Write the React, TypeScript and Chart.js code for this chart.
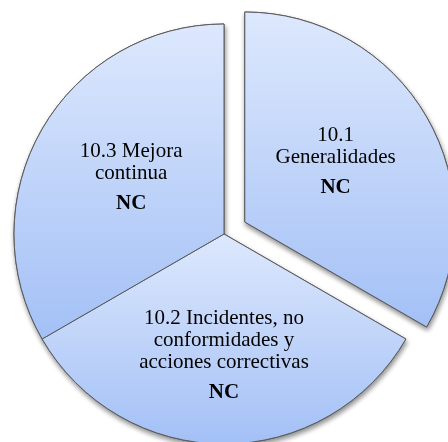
import React, { useEffect, useRef } from "react";
import { Chart, registerables } from "chart.js";

Chart.register(...registerables);

// ---- data ----
const categories = [
  "10.1 Generalidades",
  "10.2 Incidentes, no conformidades y acciones correctivas",
  "10.3 Mejora continua",
];
const values = [1, 1, 1];
const labelLines = [
  ["10.1", "Generalidades"],
  ["10.2 Incidentes, no", "conformidades y", "acciones correctivas"],
  ["10.3 Mejora", "continua"],
];
const statusLabels = ["NC", "NC", "NC"];

// ---- style ----
const explode = [24, 0, 0];
const labelRadius = [0.524, 0.571, 0.52];
const labelAngleShift = [-4.4, 0, 1.8]; // degrees
const gradTop = "#dde8fd";
const gradBottom = "#a3c0f6";
const FONT = "'Liberation Serif', 'Times New Roman', serif";

const explodePlugin = {
  id: "explodeAndGradient",
  afterDatasetsUpdate(chart: any) {
    const meta = chart.getDatasetMeta(0);
    const ctx = chart.ctx as CanvasRenderingContext2D;
    meta.data.forEach((arc: any, i: number) => {
      const mid = (arc.startAngle + arc.endAngle) / 2;
      const d = explode[i] || 0;
      if (d) {
        arc.x += Math.cos(mid) * d;
        arc.y += Math.sin(mid) * d;
      }
      const R = arc.outerRadius;
      const ys = [arc.y, arc.y + Math.sin(arc.startAngle) * R, arc.y + Math.sin(arc.endAngle) * R];
      for (let k = -2; k <= 2; k++) {
        const top = -Math.PI / 2 + 2 * Math.PI * k;
        const bot = Math.PI / 2 + 2 * Math.PI * k;
        if (top >= arc.startAngle && top <= arc.endAngle) ys.push(arc.y - R);
        if (bot >= arc.startAngle && bot <= arc.endAngle) ys.push(arc.y + R);
      }
      const y0 = Math.min(...ys);
      const y1 = Math.max(...ys);
      const g = ctx.createLinearGradient(0, y0, 0, y1);
      g.addColorStop(0, gradTop);
      g.addColorStop(1, gradBottom);
      const o = arc.options;
      if (o && !Object.isFrozen(o)) {
        o.backgroundColor = g;
      } else {
        arc.options = Object.assign({}, o, { backgroundColor: g });
      }
    });
  },
  beforeDatasetsDraw(chart: any) {
    // soft drop shadow pass, covered by the normal draw afterwards
    const ctx = chart.ctx as CanvasRenderingContext2D;
    const meta = chart.getDatasetMeta(0);
    ctx.save();
    ctx.shadowColor = "rgba(0,0,0,0.45)";
    ctx.shadowBlur = 5;
    ctx.shadowOffsetX = 1;
    ctx.shadowOffsetY = 3;
    meta.data.forEach((arc: any) => arc.draw(ctx));
    ctx.restore();
  },
  afterDatasetsDraw(chart: any) {
    const ctx = chart.ctx as CanvasRenderingContext2D;
    const meta = chart.getDatasetMeta(0);
    const lineH = 22;
    const gap = 30;
    const cap = 14;
    ctx.save();
    ctx.fillStyle = "#000";
    ctx.textAlign = "center";
    ctx.textBaseline = "alphabetic";
    meta.data.forEach((arc: any, i: number) => {
      const mid = (arc.startAngle + arc.endAngle) / 2 + (labelAngleShift[i] * Math.PI) / 180;
      const r = arc.outerRadius * labelRadius[i];
      const cx = arc.x + Math.cos(mid) * r;
      const cy = arc.y + Math.sin(mid) * r;
      const lines = labelLines[i];
      const span = (lines.length - 1) * lineH + gap;
      const fb = cy + cap / 2 - span / 2;
      ctx.font = `21px ${FONT}`;
      lines.forEach((t, j) => ctx.fillText(t, cx, fb + j * lineH));
      ctx.font = `bold 21px ${FONT}`;
      ctx.fillText(statusLabels[i], cx, fb + (lines.length - 1) * lineH + gap);
    });
    ctx.restore();
  },
};

export default function App() {
  const ref = useRef<HTMLCanvasElement | null>(null);
  useEffect(() => {
    if (!ref.current) return;
    const chart = new Chart(ref.current, {
      type: "pie",
      data: {
        labels: categories,
        datasets: [
          {
            data: values,
            backgroundColor: [gradTop, gradTop, gradTop],
            borderColor: "#5a5a5a",
            borderWidth: 1,
            radius: 210,
          } as any,
        ],
      },
      options: {
        responsive: false,
        animation: false,
        events: [],
        layout: { padding: { top: 26, bottom: 0, left: 0, right: 0 } },
        plugins: {
          legend: { display: false },
          tooltip: { enabled: false },
        },
      },
      plugins: [explodePlugin],
    });
    return () => chart.destroy();
  }, []);
  return (
    <div style={{ position: "fixed", left: 0, top: 0, width: 448, height: 442, background: "#fff" }}>
      <canvas ref={ref} width={448} height={442} style={{ display: "block" }} />
    </div>
  );
}
